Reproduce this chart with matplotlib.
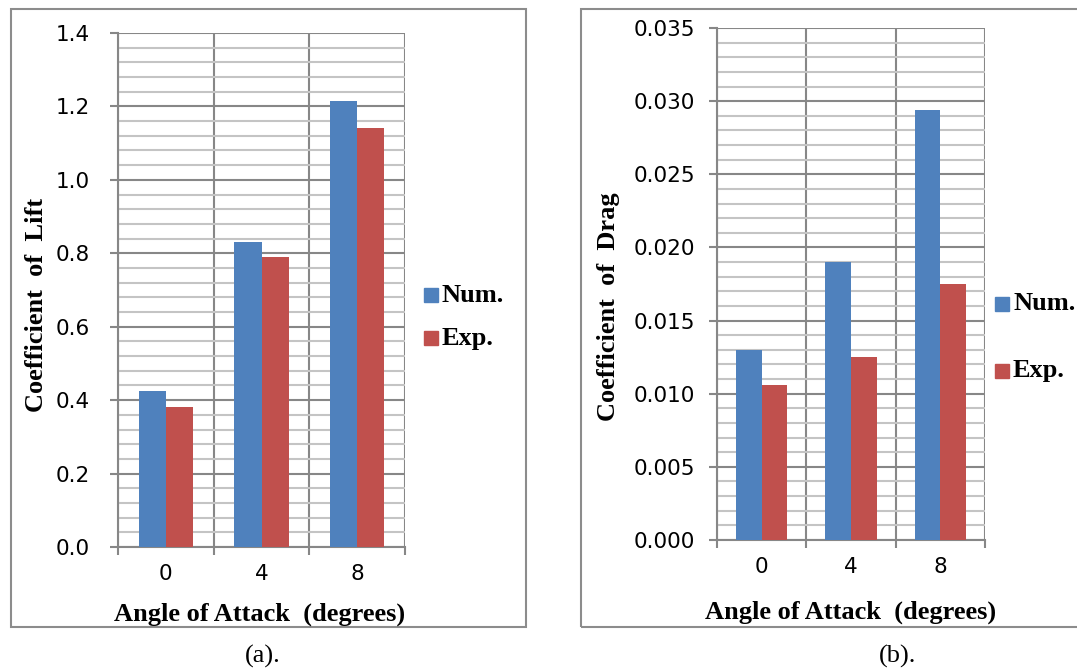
import matplotlib
matplotlib.use("Agg")
import matplotlib.pyplot as plt
from matplotlib.patches import Rectangle
from matplotlib.ticker import MultipleLocator, FixedLocator, FormatStrFormatter
import numpy as np

angles = ["0", "4", "8"]
lift_num = [0.425, 0.83, 1.215]
lift_exp = [0.38, 0.79, 1.14]
drag_num = [0.0130, 0.0190, 0.0294]
drag_exp = [0.0106, 0.0125, 0.0175]
series_names = ["Num.", "Exp."]
blue = "#4F81BD"
red = "#C0504D"

W, H = 1077, 671
fig = plt.figure(figsize=(W / 100, H / 100), dpi=100)

def px_axes(x0, x1, ytop, ybot):
    return fig.add_axes([x0 / W, (H - ybot) / H, (x1 - x0) / W, (ybot - ytop) / H])

def fx(x):
    return x / W

def fy(y):
    return (H - y) / H

serif = "Liberation Serif"
sans = "DejaVu Sans"
major_c = "#878787"
minor_c = "#c4c4c4"
tick_fs = 15.5
lab_fs = 19

def draw_panel(ax, num, exp, ymax, ymajor, yminor, fmt, ypad):
    x = np.arange(len(angles))
    bw = 1 / 3.5
    ax.bar(x - bw / 2, num, bw, color=blue, zorder=3)
    ax.bar(x + bw / 2, exp, bw, color=red, zorder=3)
    ax.set_xlim(-0.5, len(angles) - 0.5)
    ax.set_ylim(0, ymax)
    ax.yaxis.set_major_locator(MultipleLocator(ymajor))
    ax.yaxis.set_minor_locator(MultipleLocator(yminor))
    ax.yaxis.set_major_formatter(FormatStrFormatter(fmt))
    ax.set_xticks(x)
    ax.set_xticklabels(angles)
    ax.xaxis.set_minor_locator(FixedLocator(np.arange(-0.5, len(angles), 1.0)))
    ax.tick_params(axis="x", which="major", length=0, pad=12, labelsize=tick_fs)
    ax.tick_params(axis="x", which="minor", length=6, width=1.5, color=major_c, direction="out")
    ax.tick_params(axis="y", which="major", length=6, width=1.5, color=major_c, direction="out",
                   labelsize=tick_fs, pad=ypad)
    ax.tick_params(axis="y", which="minor", length=0)
    for lab in ax.get_xticklabels() + ax.get_yticklabels():
        lab.set_fontfamily(sans)
    ax.grid(which="minor", axis="y", color=minor_c, lw=1.5, zorder=1)
    ax.grid(which="major", axis="y", color=major_c, lw=1.5, zorder=1)
    ax.grid(which="minor", axis="x", color=major_c, lw=1.5, zorder=1)
    ax.set_axisbelow(True)
    for s in ["top", "right"]:
        ax.spines[s].set_visible(False)
    for s in ["left", "bottom"]:
        ax.spines[s].set_color(major_c)
        ax.spines[s].set_linewidth(1.5)

# panel boxes
fig.add_artist(Rectangle((fx(10.5), fy(627)), fx(526) - fx(10.5), fy(8.5) - fy(627),
                         transform=fig.transFigure, fill=False, ec="#8c8c8c", lw=1.5))
fig.add_artist(Rectangle((fx(581), fy(627)), fx(1085) - fx(581), fy(8.5) - fy(627),
                         transform=fig.transFigure, fill=False, ec="#8c8c8c", lw=1.5))

ax1 = px_axes(118, 405, 33, 547)
draw_panel(ax1, lift_num, lift_exp, 1.4, 0.2, 0.04, "%.1f", 14)
ax2 = px_axes(717, 985, 28, 540)
draw_panel(ax2, drag_num, drag_exp, 0.035, 0.005, 0.001, "%.3f", 10)

# axis labels
fig.text(fx(37), fy(305), "Coefficient  of  Lift", rotation=90, ha="center", va="center",
         fontfamily=serif, fontweight="bold", fontsize=lab_fs)
fig.text(fx(609), fy(307), "Coefficient  of  Drag", rotation=90, ha="center", va="center",
         fontfamily=serif, fontweight="bold", fontsize=lab_fs)
fig.text(fx(260), fy(614), "Angle of Attack  (degrees)", ha="center", va="center",
         fontfamily=serif, fontweight="bold", fontsize=lab_fs)
fig.text(fx(851), fy(612), "Angle of Attack  (degrees)", ha="center", va="center",
         fontfamily=serif, fontweight="bold", fontsize=lab_fs)
fig.text(fx(263), fy(656), "(a).", ha="center", va="center", fontfamily=serif, fontsize=lab_fs)
fig.text(fx(898), fy(656), "(b).", ha="center", va="center", fontfamily=serif, fontsize=lab_fs)

# legends
def legend(x, ys, xt):
    for y, c, name in zip(ys, [blue, red], series_names):
        fig.add_artist(Rectangle((fx(x), fy(y + 7)), fx(14), 14 / H,
                                 transform=fig.transFigure, color=c))
        fig.text(fx(xt), fy(y), name, ha="left", va="center", fontfamily=serif,
                 fontweight="bold", fontsize=lab_fs)

legend(424, [295, 338], 442)
legend(995, [304, 371], 1013)

fig.savefig("out.png", dpi=100)
